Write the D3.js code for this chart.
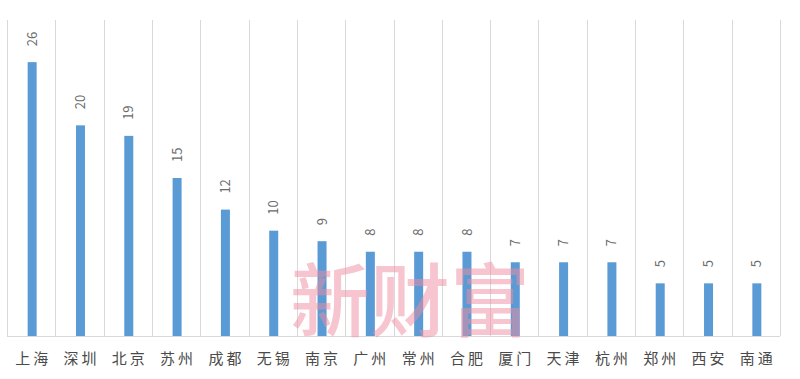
<!DOCTYPE html>
<html lang="zh">
<head>
<meta charset="UTF-8">
<title>城市数量</title>
<style>
    body { margin: 0; background: #fff; }
    text { font-family: "Noto Sans CJK SC", sans-serif; }
    .grid line { stroke: #d9d9d9; stroke-width: 1px; }
    .val { fill: #6b6b6b; font-size: 13px; }
    .cat { fill: #4a4a4a; font-size: 15px; letter-spacing: 3px; }
</style>
</head>
<body>
<svg id="svg" width="800" height="379"></svg>
<script src="https://d3js.org/d3.v7.min.js"></script>
<script>
    const cities = ["上海","深圳","北京","苏州","成都","无锡","南京","广州","常州","合肥","厦门","天津","杭州","郑州","西安","南通"];
    const counts = [26, 20, 19, 15, 12, 10, 9, 8, 8, 8, 7, 7, 7, 5, 5, 5];

    const svg = d3.select("#svg");
    const plotL = 7, plotR = 780, plotT = 20, plotB = 336;

    const x = d3.scaleBand().domain(cities).range([plotL, plotR]);
    const y = d3.scaleLinear().domain([0, 30]).range([plotB, plotT]);

    // vertical separators between categories
    const edges = cities.map(d => x(d)).concat([plotR]);
    svg.append("g").attr("class", "grid")
        .selectAll("line").data(edges).enter().append("line")
        .attr("x1", d => Math.round(d) + 0.5).attr("x2", d => Math.round(d) + 0.5)
        .attr("y1", plotT).attr("y2", plotB);

    svg.append("line")
        .attr("x1", plotL).attr("x2", plotR)
        .attr("y1", plotB + 0.5).attr("y2", plotB + 0.5)
        .attr("stroke", "#d9d9d9");

    const barW = 9;
    svg.append("g").selectAll("rect").data(cities).enter().append("rect")
        .attr("x", d => x(d) + x.bandwidth() / 2 - barW / 2 + 1)
        .attr("width", barW)
        .attr("y", (d, i) => y(counts[i]))
        .attr("height", (d, i) => plotB - y(counts[i]))
        .attr("fill", "#5b9bd5");

    // value labels, rotated
    svg.append("g").selectAll("text").data(cities).enter().append("text")
        .attr("class", "val")
        .attr("transform", (d, i) => "translate(" + (x(d) + x.bandwidth() / 2 + 1) + "," + (y(counts[i]) - 16) + ") rotate(-90)")
        .attr("text-anchor", "start")
        .attr("dy", "0.35em")
        .text((d, i) => counts[i]);

    svg.append("g").selectAll("text").data(cities).enter().append("text")
        .attr("class", "cat")
        .attr("x", d => x(d) + x.bandwidth() / 2 + 2)
        .attr("y", 364)
        .attr("text-anchor", "middle")
        .text(d => d);

    // watermark
    svg.append("text")
        .attr("x", 410).attr("y", 330)
        .attr("text-anchor", "middle")
        .style("font-size", "80px")
        .style("font-weight", "500")
        .attr("fill", "#f08ca0")
        .attr("fill-opacity", 0.5)
        .text("新财富");
</script>
</body>
</html>
